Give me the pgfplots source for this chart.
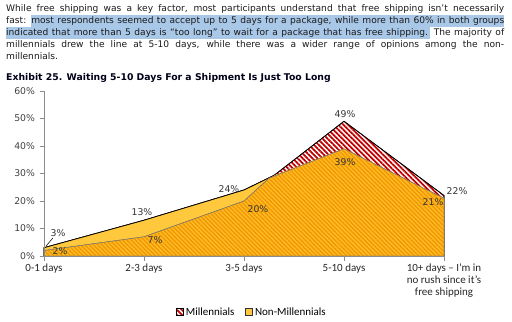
\documentclass[border=0pt]{standalone}
\usepackage{fontspec}
\setmainfont{DejaVu Sans}
\newfontfamily\carlito{Carlito}
\usepackage{pgfplots}
\pgfplotsset{compat=1.18}
\usetikzlibrary{patterns.meta}
\definecolor{hl}{HTML}{A9C8E8}
\definecolor{txt}{HTML}{1A1A1A}
\definecolor{redh}{HTML}{C00000}
\definecolor{yel}{HTML}{FFC83D}
\definecolor{orgbase}{HTML}{FFBE1E}
\definecolor{orgline}{HTML}{F0960A}
\definecolor{axg}{HTML}{8C8C8C}
\definecolor{lab}{HTML}{333333}
\newcommand{\ptxt}{\fontsize{9.1bp}{12bp}\selectfont}
\newcommand{\ltxt}{\fontsize{9.3bp}{10bp}\selectfont}
\newcommand{\ctxt}{\carlito\fontsize{11bp}{12bp}\selectfont}
\tikzset{
  redhatch/.style={fill=white, draw=black, line width=0.7bp,
    postaction={pattern={Lines[angle=-45,distance=3.5bp,line width=1.75bp]}, pattern color=redh}},
  orghatch/.style={fill=orgbase, draw=black!55, line width=0.4bp,
    postaction={pattern={Lines[angle=-45,distance=3bp,line width=1.4bp]}, pattern color=orgline}},
}
\begin{document}
\begin{tikzpicture}[x=1bp,y=1bp]
\useasboundingbox (0,0) rectangle (512,321);
% selection highlight
\fill[hl] (31,321-27) rectangle (504,321-15.5);
\fill[hl] (6,321-38.5) rectangle (430,321-27);
\node[anchor=base west,inner sep=0,text=txt,font=\ptxt] at (6,321-11.5) {\makebox[498bp][s]{While free shipping was a key factor, most participants understand that free shipping isn’t necessarily}};
\node[anchor=base west,inner sep=0,text=txt,font=\ptxt] at (6,321-23.5) {\makebox[498bp][s]{fast: most respondents seemed to accept up to 5 days for a package, while more than 60\% in both groups}};
\node[anchor=base west,inner sep=0,text=txt,font=\ptxt] at (6,321-35.5) {\makebox[498bp][s]{indicated that more than 5 days is “too long” to wait for a package that has free shipping. The majority of}};
\node[anchor=base west,inner sep=0,text=txt,font=\ptxt] at (6,321-47.5) {\makebox[498bp][s]{millennials drew the line at 5-10 days, while there was a wider range of opinions among the non-}};
\node[anchor=base west,inner sep=0,text=txt,font=\ptxt] at (6,321-59.5) {millennials.};
% title
\node[anchor=base west,inner sep=0,text=black!90!blue,font=\bfseries\fontsize{9.3bp}{10bp}\selectfont] at (6,321-80) {Exhibit 25. Waiting 5-10 Days For a Shipment Is Just Too Long};

\begin{axis}[
  at={(44bp,65bp)}, anchor=south west,
  scale only axis, width=400bp, height=165bp,
  xmin=0, xmax=4, ymin=0, ymax=60,
  axis lines*=left,
  axis line style={draw=axg, line width=0.9bp},
  tick style={draw=axg, line width=0.9bp},
  tick align=outside, major tick length=4.5bp,
  xtick={0,1,2,3,4},
  xticklabels={0-1 days,2-3 days,3-5 days,5-10 days,{10+ days – I’m in\\no rush since it’s\\free shipping}},
  xticklabel style={font=\ctxt, align=center, text=black!85, inner sep=1bp, yshift=-2bp},
  ytick={0,10,20,30,40,50,60},
  yticklabels={0\%,10\%,20\%,30\%,40\%,50\%,60\%},
  yticklabel style={font=\ltxt, text=black!75, xshift=-1bp},
  axis on top,
  clip=false,
  legend style={draw=none, fill=none, at={(0.52,-0.339)}, anchor=center,
    legend columns=2, font=\ctxt, inner sep=0pt,
    nodes={inner sep=2bp}},
  legend cell align=left,
]
% Millennials (back, red hatch)
\addplot[redhatch, forget plot] coordinates {(0,3) (1,13) (2,24) (2.3,29.3) (3,49) (4,22)} \closedcycle;
% solid yellow layer
\addplot[fill=yel, draw=none, forget plot] coordinates {(0,3) (1,13) (2,24) (2.3,29.3) (3,39) (4,21)} \closedcycle;
% redraw Millennials edge on the left
\addplot[draw=black, line width=0.7bp, forget plot] coordinates {(0,3) (1,13) (2,24) (2.3,29.3)};
% Non-Millennials (front, orange hatch)
\addplot[orghatch, forget plot] coordinates {(0,2) (1,7) (2,20) (2.25,28.3) (3,39) (4,21)} \closedcycle;

\addlegendimage{legend image code/.code={\draw[redhatch, line width=0.6bp] (0bp,-3.5bp) rectangle (7bp,3.5bp);}}
\addlegendentry{Millennials\rule{9bp}{0pt}}
\addlegendimage{legend image code/.code={\draw[fill=yel, draw=black!80, line width=0.6bp] (0bp,-3.5bp) rectangle (7bp,3.5bp);}}
\addlegendentry{Non-Millennials}

% data labels
\draw[black, line width=0.5bp] (axis cs:0.02,3.6) -- (axis cs:0.09,6.6);
\node[font=\ltxt, text=lab] at (axis cs:0.14,8.4) {3\%};
\node[font=\ltxt, text=lab] at (axis cs:0.98,16) {13\%};
\node[font=\ltxt, text=lab] at (axis cs:1.85,24.2) {24\%};
\node[font=\ltxt, text=lab] at (axis cs:3.01,51.6) {49\%};
\node[font=\ltxt, text=lab] at (axis cs:4.13,23.6) {22\%};
\node[font=\ltxt, text=lab] at (axis cs:0.16,1.8) {2\%};
\node[font=\ltxt, text=lab] at (axis cs:1.11,5.8) {7\%};
\node[font=\ltxt, text=lab] at (axis cs:2.14,17.1) {20\%};
\node[font=\ltxt, text=lab] at (axis cs:3.01,34.2) {39\%};
\node[font=\ltxt, text=lab] at (axis cs:3.89,19.6) {21\%};
\end{axis}
\end{tikzpicture}
\end{document}
